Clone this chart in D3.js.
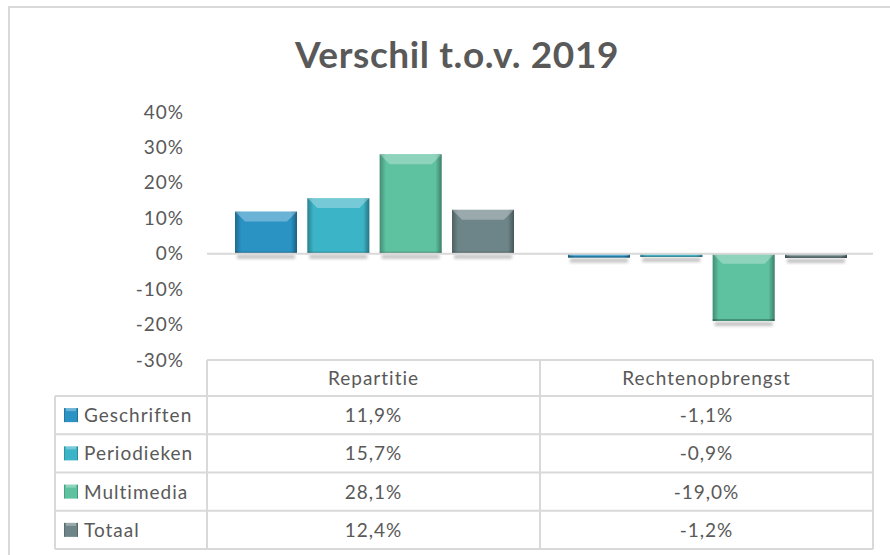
<!DOCTYPE html>
<html>
<head>
<meta charset="utf-8">
<script src="https://cdn.jsdelivr.net/npm/d3@7"></script>
<style>
  body { margin: 0; background: #fff; }
  svg { display: block; font-family: Lato, "Open Sans", sans-serif; }
</style>
</head>
<body>
<div id="chart"></div>
<script>
// data
const categories = ["Repartitie", "Rechtenopbrengst"];
const series = ["Geschriften", "Periodieken", "Multimedia", "Totaal"];
const repartitie = [11.9, 15.7, 28.1, 12.4];
const rechtenopbrengst = [-1.1, -0.9, -19.0, -1.2];
const yTicks = [-30, -20, -10, 0, 10, 20, 30, 40];
const seriesColors = ["#2a93c4", "#3bb4c7", "#5ec2a1", "#6d8588"];

const values = [repartitie, rechtenopbrengst];

const width = 890, height = 555;
const svg = d3.select("#chart").append("svg")
    .attr("width", width)
    .attr("height", height);

const defs = svg.append("defs");
// donkere randen links/rechts
const hs = defs.append("linearGradient").attr("id", "hshade")
    .attr("x1", "0").attr("x2", "1").attr("y1", "0").attr("y2", "0");
hs.append("stop").attr("offset", "0").attr("stop-color", "#000").attr("stop-opacity", 0.28);
hs.append("stop").attr("offset", "0.1").attr("stop-color", "#000").attr("stop-opacity", 0);
hs.append("stop").attr("offset", "0.9").attr("stop-color", "#000").attr("stop-opacity", 0);
hs.append("stop").attr("offset", "1").attr("stop-color", "#000").attr("stop-opacity", 0.35);
// schaduw
defs.append("filter").attr("id", "blur").attr("x", "-20%").attr("y", "-50%")
    .attr("width", "140%").attr("height", "200%")
    .append("feGaussianBlur").attr("stdDeviation", 1.5);

// kader
svg.append("rect")
    .attr("x", 9).attr("y", 7)
    .attr("width", 900).attr("height", 600)
    .attr("fill", "none")
    .attr("stroke", "#d9d9d9")
    .attr("stroke-width", 2);

// titel
svg.append("text")
    .attr("x", 457).attr("y", 68)
    .attr("text-anchor", "middle")
    .attr("font-size", 37)
    .attr("font-weight", "bold")
    .attr("letter-spacing", 0.6)
    .attr("fill", "#595959")
    .text("Verschil t.o.v. 2019");

// schalen
const plotLeft = 207, plotRight = 873;
const y = d3.scaleLinear().domain([-30, 40]).range([360, 112]);
const x0 = d3.scaleBand().domain(categories).range([plotLeft, plotRight]);
const x1 = d3.scaleBand().domain(series).range([28, 307]).paddingInner(0.143);

// y-as labels
const yAxis = svg.append("g")
    .attr("transform", `translate(${plotLeft - 23},0)`)
    .call(d3.axisLeft(y).tickValues(yTicks).tickSize(0).tickPadding(0)
        .tickFormat(d => d + "%"));
yAxis.select(".domain").remove();
yAxis.selectAll("text")
    .attr("font-family", "Lato, 'Open Sans', sans-serif")
    .attr("font-size", 19)
    .attr("letter-spacing", 1)
    .attr("fill", "#595959");

// bars
const bars = [];
categories.forEach((c, ci) => {
    series.forEach((s, si) => {
        bars.push({ cat: c, ser: s, si: si, v: values[ci][si] });
    });
});

const g = svg.append("g");
const barG = g.selectAll("g.bar")
    .data(bars)
    .enter().append("g")
    .attr("class", "bar");

function geom(d) {
    const bx = x0(d.cat) + x1(d.ser);
    const by = y(Math.max(0, d.v));
    const bh = Math.abs(y(d.v) - y(0));
    return { bx, by, bw: x1.bandwidth(), bh };
}

// schaduw onder de balk
barG.append("rect")
    .attr("x", d => geom(d).bx + 2)
    .attr("y", d => geom(d).by + geom(d).bh + 1)
    .attr("width", d => geom(d).bw - 4)
    .attr("height", 4)
    .attr("fill", "#999")
    .attr("opacity", 0.6)
    .attr("filter", "url(#blur)");

barG.append("rect")
    .attr("x", d => geom(d).bx)
    .attr("y", d => geom(d).by)
    .attr("width", d => geom(d).bw)
    .attr("height", d => geom(d).bh)
    .attr("fill", d => seriesColors[d.si]);

barG.append("rect")
    .attr("x", d => geom(d).bx)
    .attr("y", d => geom(d).by)
    .attr("width", d => geom(d).bw)
    .attr("height", d => geom(d).bh)
    .attr("fill", "url(#hshade)");

// bevel bovenkant
barG.append("polygon")
    .attr("points", d => {
        const q = geom(d);
        const b = Math.min(10, q.bh / 2);
        return [[q.bx, q.by], [q.bx + q.bw, q.by], [q.bx + q.bw - b, q.by + b], [q.bx + b, q.by + b]]
            .map(p => p.join(",")).join(" ");
    })
    .attr("fill", "#fff")
    .attr("opacity", 0.3);

// onderrand donker
barG.append("rect")
    .attr("x", d => geom(d).bx)
    .attr("y", d => geom(d).by + geom(d).bh - Math.min(2, geom(d).bh / 3))
    .attr("width", d => geom(d).bw)
    .attr("height", d => Math.min(2, geom(d).bh / 3))
    .attr("fill", "#000")
    .attr("opacity", 0.25);

// nullijn
svg.append("line")
    .attr("x1", plotLeft).attr("x2", plotRight)
    .attr("y1", y(0)).attr("y2", y(0))
    .attr("stroke", "#d9d9d9")
    .attr("stroke-width", 2);

// datatabel
const tableTop = 360, headerBottom = 396, tableBottom = 549, tableLeft = 55;
const rowH = (tableBottom - headerBottom) / series.length;
const lineColor = "#d9d9d9";
const tbl = svg.append("g").attr("stroke", lineColor).attr("stroke-width", 2);

tbl.append("line").attr("x1", plotLeft).attr("x2", plotRight).attr("y1", tableTop).attr("y2", tableTop);
d3.range(series.length + 1).forEach(i => {
    const yy = headerBottom + i * rowH;
    tbl.append("line").attr("x1", tableLeft).attr("x2", plotRight).attr("y1", yy).attr("y2", yy);
});
tbl.append("line").attr("x1", tableLeft).attr("x2", tableLeft).attr("y1", headerBottom).attr("y2", tableBottom);
[plotLeft, x0(categories[1]), plotRight].forEach(xx => {
    tbl.append("line").attr("x1", xx).attr("x2", xx).attr("y1", tableTop).attr("y2", tableBottom);
});

const fmt = v => d3.format(".1f")(v).replace(".", ",").replace("\u2212", "-") + "%";
const txt = svg.append("g")
    .attr("font-size", 19)
    .attr("letter-spacing", 1)
    .attr("fill", "#595959");

categories.forEach(c => {
    txt.append("text")
        .attr("x", x0(c) + x0.bandwidth() / 2)
        .attr("y", (tableTop + headerBottom) / 2 + 7)
        .attr("text-anchor", "middle")
        .text(c);
});

series.forEach((s, si) => {
    const cy = headerBottom + si * rowH + rowH / 2;
    // legenda-sleutel
    svg.append("rect")
        .attr("x", 64).attr("y", cy - 7)
        .attr("width", 14).attr("height", 14)
        .attr("fill", seriesColors[si]);
    svg.append("rect")
        .attr("x", 64).attr("y", cy - 7)
        .attr("width", 14).attr("height", 14)
        .attr("fill", "url(#hshade)");
    svg.append("rect")
        .attr("x", 66).attr("y", cy - 7)
        .attr("width", 10).attr("height", 3)
        .attr("fill", "#fff").attr("opacity", 0.3);
    txt.append("text")
        .attr("x", 84).attr("y", cy + 7)
        .text(s);
    categories.forEach((c, ci) => {
        txt.append("text")
            .attr("x", x0(c) + x0.bandwidth() / 2)
            .attr("y", cy + 7)
            .attr("text-anchor", "middle")
            .text(fmt(values[ci][si]));
    });
});
</script>
</body>
</html>
